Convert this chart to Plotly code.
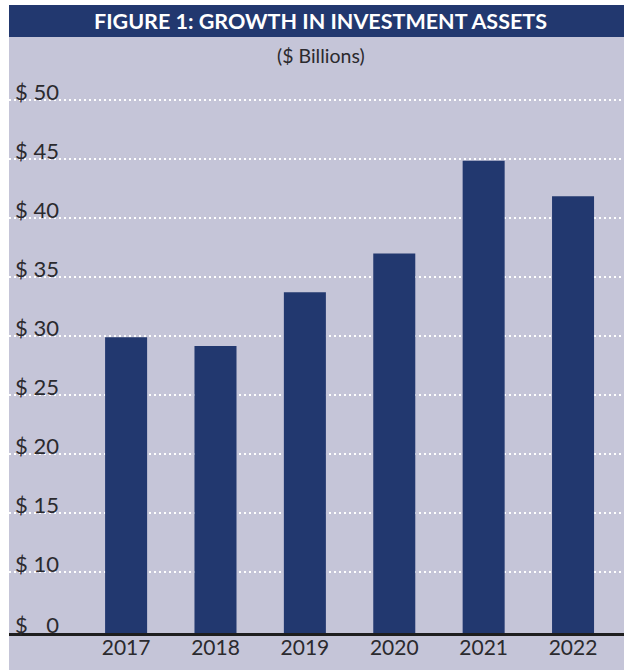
import plotly.graph_objects as go

years = ["2017", "2018", "2019", "2020", "2021", "2022"]
assets = [29.9, 29.15, 33.7, 37.0, 44.85, 41.85]
tick_values = [4.83, 10, 15, 20, 25, 30, 35, 40, 45, 50]
tick_labels = ["$ \u20070", "$ 10", "$ 15", "$ 20", "$ 25", "$ 30", "$ 35", "$ 40", "$ 45", "$ 50"]

NAVY = "#22386f"
GRAY = "#c5c5d8"
TEXT = "#2b2a2e"
FONT = "Lato"

W, H = 624, 670
ML, MR, MT, MB = 9, 0, 75, 37
plot_h = H - MT - MB
bottom_px = H - MB


def py(p):
    return (bottom_px - p) / plot_h


fig = go.Figure(
    go.Bar(
        x=years,
        y=assets,
        marker=dict(color=NAVY, line=dict(width=0)),
        width=0.47,
    )
)

fig.update_layout(
    width=W,
    height=H,
    margin=dict(l=ML, r=MR, t=MT, b=MB),
    paper_bgcolor="white",
    plot_bgcolor=GRAY,
    showlegend=False,
    font=dict(family=FONT, color=TEXT, size=20),
    shapes=[
        dict(type="rect", xref="paper", yref="paper", x0=0, x1=1,
             y0=py(H), y1=py(37), fillcolor=GRAY, line=dict(width=0), layer="below"),
        dict(type="rect", xref="paper", yref="paper", x0=0, x1=1,
             y0=py(37), y1=py(5), fillcolor=NAVY, line=dict(width=0), layer="below"),
    ],
    annotations=[
        dict(text="<b>FIGURE 1: GROWTH IN INVESTMENT ASSETS</b>", xref="paper", yref="paper",
             x=0.507, y=py(21), xanchor="center", yanchor="middle", showarrow=False,
             font=dict(family=FONT, size=21.5, color="white")),
        dict(text="($ Billions)", xref="paper", yref="paper",
             x=0.507, y=py(55), xanchor="center", yanchor="middle", showarrow=False,
             font=dict(family=FONT, size=19.5, color=TEXT)),
    ],
)

fig.update_xaxes(
    type="category",
    range=[-1.31, 5.57],
    showgrid=False,
    showline=True,
    linecolor="#1e1e1e",
    linewidth=3,
    ticks="",
    ticklabelstandoff=-6,
    tickfont=dict(family=FONT, size=21, color=TEXT),
    fixedrange=True,
)

fig.update_yaxes(
    range=[4.83, 52.12],
    tickvals=tick_values,
    ticktext=tick_labels,
    ticklabelposition="inside top",
    ticklabeloverflow="allow",
    ticklabelstandoff=3,
    ticklabelshift=8,
    showgrid=True,
    gridcolor="white",
    gridwidth=2,
    griddash="2px,3px",
    zeroline=False,
    showline=False,
    ticks="",
    tickfont=dict(family=FONT, size=22, color=TEXT),
    fixedrange=True,
)

fig.write_html("out.html", post_script="document.body.style.margin='0';",
               config={"displayModeBar": False})
